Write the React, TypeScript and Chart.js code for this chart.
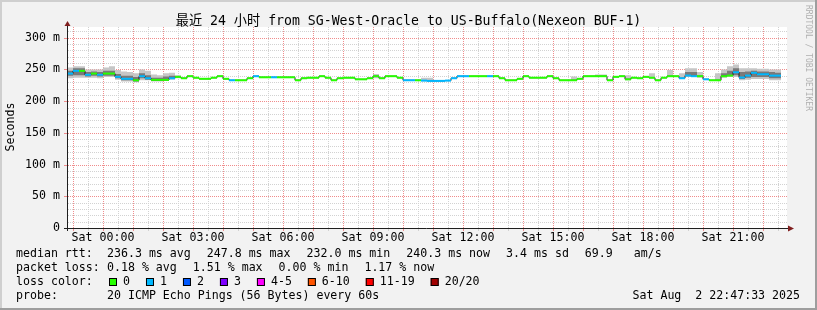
import React, { useEffect, useRef } from 'react';
import { Chart, registerables } from 'chart.js';

Chart.register(...registerables);

// ---------- data ----------
const STEP_MINUTES = 12; // each consolidated step (minutes since Fri 22:48)

const MEDIAN_MS = [
  243.6, 247.8, 247.8, 241.6, 243.6, 241.6, 243.6, 243.6, 238.4, 235.3,
  235.3, 233.0, 239.4, 236.2, 233.6, 233.6, 233.6, 236.2, 238.4, 236.2,
  239.4, 237.0, 235.3, 235.3, 237.0, 239.4, 235.3, 233.0, 233.0, 233.0,
  236.2, 239.4, 237.7, 237.7, 237.7, 237.7, 237.7, 237.7, 233.0, 236.2,
  237.0, 237.0, 239.4, 237.0, 233.0, 236.2, 237.0, 237.0, 234.5, 234.5,
  236.2, 239.4, 236.2, 239.4, 239.4, 237.0, 233.0, 233.0, 233.0, 232.5,
  232.0, 232.0, 232.0, 232.5, 236.2, 239.4, 239.4, 239.4, 239.4, 239.4,
  239.4, 239.4, 236.2, 233.0, 233.0, 235.3, 239.4, 237.0, 237.0, 237.0,
  239.4, 236.2, 233.0, 233.0, 233.0, 235.3, 239.4, 239.4, 239.4, 239.4,
  233.0, 238.4, 239.4, 234.5, 237.0, 236.2, 238.4, 237.0, 233.0, 237.0,
  239.4, 239.4, 236.2, 240.4, 239.4, 239.4, 234.5, 233.0, 233.0, 239.4,
  240.4, 245.7, 237.3, 240.4, 244.7, 242.5, 242.5, 240.3, 240.3,
];

// loss colour bucket per step (0 = no loss, 1 = 1/20 lost)
const LOSS_BUCKET = [
  1, 1, 0, 1, 0, 1, 0, 0, 1, 1,
  1, 0, 1, 1, 0, 0, 0, 1, 0, 0,
  0, 0, 0, 0, 0, 0, 0, 1, 0, 0,
  0, 1, 0, 0, 1, 0, 0, 0, 0, 0,
  0, 0, 0, 0, 0, 0, 0, 0, 0, 0,
  0, 0, 0, 0, 0, 0, 1, 1, 0, 1,
  1, 1, 1, 1, 1, 1, 1, 0, 0, 0,
  1, 0, 0, 0, 0, 0, 0, 0, 0, 0,
  0, 0, 0, 0, 0, 0, 0, 0, 0, 0,
  0, 0, 0, 0, 0, 0, 0, 0, 0, 0,
  0, 0, 1, 1, 1, 0, 1, 0, 0, 0,
  0, 1, 1, 1, 1, 1, 1, 1, 1,
];

// smoke (spread of the 20 pings) where it is visible
const SMOKE_STEP = [
  0, 1, 2, 3, 4, 5, 6, 7, 8, 9, 10, 11, 12, 13, 14, 15, 16, 17, 18,
  51, 59, 60, 84, 88, 89, 93, 97, 100, 102, 103, 104, 105, 108, 109, 110,
  111, 112, 113, 114, 115, 116, 117, 118,
];
const SMOKE_MIN = [
  236, 237, 237, 237, 237, 236, 238, 238, 234, 231, 231, 230, 233, 233, 231, 231, 232, 234, 236,
  236, 232, 232, 232, 238, 238, 233, 236, 238, 235, 238, 238, 237, 232, 237, 238,
  238, 233, 234, 235, 235, 235, 233, 233,
];
const SMOKE_MAX = [
  253, 255, 255, 250, 250, 250, 253, 255, 249, 247, 246, 244, 250, 248, 242, 241, 244, 245, 241,
  243, 237, 237, 239, 242, 242, 241, 244, 249, 244, 252, 252, 246, 244, 250, 255,
  258, 252, 252, 252, 251, 251, 250, 250,
];
const SMOKE_CORE_LO = [
  240, 241, 241, 239, 240, 239, 240, 240, 236, 233, 233, 231, 236, 234, 232, 232, 233, 235, null,
  null, null, null, null, null, null, null, null, null, null, 240, 240, null, null, 238, 240,
  241, 235, 237, 238, 238, 238, 236, 236,
];
const SMOKE_CORE_HI = [
  248, 252, 252, 246, 247, 246, 248, 248, 243, 240, 240, 238, 244, 241, 237, 237, 239, 240, null,
  null, null, null, null, null, null, null, null, null, null, 246, 246, null, null, 244, 248,
  252, 246, 247, 248, 247, 247, 246, 245,
];

const X_LABEL_MINUTES = [72, 252, 432, 612, 792, 972, 1152, 1332];
const X_TICK_LABELS = [
  'Sat 00:00', 'Sat 03:00', 'Sat 06:00', 'Sat 09:00',
  'Sat 12:00', 'Sat 15:00', 'Sat 18:00', 'Sat 21:00',
];
const Y_LABEL_VALUES = [0, 50, 100, 150, 200, 250, 300];
const Y_TICK_LABELS = ['0', '50 m', '100 m', '150 m', '200 m', '250 m', '300 m'];

const TITLE = '最近 24 小时 from SG-West-Oracle to US-Buffalo(Nexeon BUF-1)';
const Y_TITLE = 'Seconds';
const WATERMARK = 'RRDTOOL / TOBI OETIKER';
const RTT_LABEL = 'median rtt:';
const RTT_STATS = ['236.3 ms avg', '247.8 ms max', '232.0 ms min', '240.3 ms now', '3.4 ms sd', '69.9   am/s'];
const LOSS_LABEL = 'packet loss:';
const LOSS_STATS = ['0.18 % avg', '1.51 % max', '0.00 % min', '1.17 % now'];
const LOSS_COLOR_LABEL = 'loss color:';
const LOSS_LABELS = ['0', '1', '2', '3', '4-5', '6-10', '11-19', '20/20'];
const LOSS_COLORS = ['#26ff00', '#00b8ff', '#0059ff', '#7e00ff', '#ff00ff', '#ff5500', '#ff0000', '#a00000'];
const PROBE_LABEL = 'probe:';
const PROBE_TEXT = '20 ICMP Echo Pings (56 Bytes) every 60s';
const DATE_TEXT = 'Sat Aug  2 22:47:33 2025';

// ---------- style ----------
const MONO = "'DejaVu Sans Mono', 'Noto Sans CJK SC', monospace";
const GRID = '#d2d2d2';
const MGRID = '#f08c8c';
const BACK = '#f2f2f2';
const SMOKE_OUTER = '#c6c6c6';
const SMOKE_CORE = '#7a7a7a';
const AXIS = '#1f1f1f';
const ARROW = '#801f1f';
const X_MAX = 1440;
const Y_MAX = 317;
const X_GRID = Array.from({ length: 48 }, (_, k) => 12 + 30 * k); // every 30 min
const Y_GRID = Array.from({ length: 32 }, (_, k) => 10 * k); // every 10 ms

function stepPoints(values: number[]) {
  const pts = values.map((v, i) => ({ x: i * STEP_MINUTES, y: v }));
  pts.push({ x: values.length * STEP_MINUTES, y: values[values.length - 1] });
  return pts;
}

function withSmoke(src: (number | null)[]) {
  const out = MEDIAN_MS.slice();
  SMOKE_STEP.forEach((s, k) => {
    const v = src[k];
    if (v !== null && v !== undefined) out[s] = v;
  });
  return out;
}

const isHour = (v: number) => (v - 12) % 60 === 0;
const isMajorY = (v: number) => v % 50 === 0;

// dotted 1px line drawn pixel by pixel (crisp dots)
function dottedV(ctx: CanvasRenderingContext2D, x: number, y0: number, y1: number) {
  for (let y = Math.ceil(y0); y < y1; y += 2) ctx.fillRect(x, y, 1, 1);
}
function dottedH(ctx: CanvasRenderingContext2D, y: number, x0: number, x1: number) {
  for (let x = Math.ceil(x0); x < x1; x += 2) ctx.fillRect(x, y, 1, 1);
}

const decorPlugin = {
  id: 'rrdDecor',
  beforeDraw(chart: any) {
    const { ctx, chartArea: a, width, height } = chart;
    ctx.save();
    ctx.fillStyle = BACK;
    ctx.fillRect(0, 0, width, height);
    ctx.fillStyle = '#ffffff';
    ctx.fillRect(a.left, a.top, a.right - a.left, a.bottom - a.top);
    ctx.restore();
  },
  beforeDatasetsDraw(chart: any) {
    const { ctx, chartArea: a, scales } = chart;
    const xs = scales.x;
    const ys = scales.y;
    ctx.save();
    const pass = (major: boolean) => {
      ctx.fillStyle = major ? MGRID : GRID;
      for (const v of X_GRID) {
        if (isHour(v) !== major) continue;
        const px = Math.round(xs.getPixelForValue(v));
        dottedV(ctx, px, a.top, a.bottom);
        ctx.fillRect(px, a.bottom + 1, 1, 2);
      }
      for (const v of Y_GRID) {
        if (v === 0 || isMajorY(v) !== major) continue;
        const py = Math.round(ys.getPixelForValue(v));
        dottedH(ctx, py, a.left + 1, a.right);
        if (major) ctx.fillRect(a.left - 3, py, 3, 1);
      }
    };
    pass(false);
    pass(true);
    ctx.restore();
  },
  afterDatasetsDraw(chart: any) {
    const { ctx, chartArea: a } = chart;
    ctx.save();
    ctx.strokeStyle = AXIS;
    ctx.lineWidth = 1;
    const yb = Math.round(a.bottom) + 0.5;
    const xl = Math.round(a.left) + 0.5;
    ctx.beginPath();
    ctx.moveTo(a.left - 3, yb);
    ctx.lineTo(a.right + 2, yb);
    ctx.moveTo(xl, a.bottom + 3);
    ctx.lineTo(xl, a.top - 2);
    ctx.stroke();
    ctx.fillStyle = ARROW;
    ctx.beginPath();
    ctx.moveTo(xl - 3, a.top - 1);
    ctx.lineTo(xl + 3, a.top - 1);
    ctx.lineTo(xl, a.top - 6);
    ctx.closePath();
    ctx.fill();
    ctx.beginPath();
    ctx.moveTo(a.right + 1, yb - 3);
    ctx.lineTo(a.right + 1, yb + 3);
    ctx.lineTo(a.right + 7, yb);
    ctx.closePath();
    ctx.fill();
    ctx.restore();
  },
  afterDraw(chart: any) {
    const { ctx, width, height } = chart;
    ctx.save();
    ctx.fillStyle = '#000';
    ctx.textBaseline = 'middle';
    // title
    ctx.font = `13.2px ${MONO}`;
    ctx.textAlign = 'center';
    ctx.fillText(TITLE, width / 2, 21.5);
    // y title
    ctx.font = `11.6px ${MONO}`;
    ctx.save();
    ctx.translate(10.5, 127);
    ctx.rotate(-Math.PI / 2);
    ctx.fillText(Y_TITLE, 0, 0);
    ctx.restore();
    // watermark
    ctx.save();
    ctx.font = `8px ${MONO}`;
    ctx.fillStyle = '#b0b0b0';
    ctx.textAlign = 'left';
    ctx.translate(808.5, 5);
    ctx.rotate(Math.PI / 2);
    ctx.fillText(WATERMARK, 0, 0);
    ctx.restore();
    // legend
    ctx.font = `11.6px ${MONO}`;
    ctx.textAlign = 'left';
    const rows = [254, 268.3, 282.3, 296.2];
    ctx.fillText(RTT_LABEL, 16, rows[0]);
    let x = 107;
    for (const t of RTT_STATS) {
      ctx.fillText(t, x, rows[0]);
      x += ctx.measureText(t).width + 16;
    }
    ctx.fillText(LOSS_LABEL, 16, rows[1]);
    x = 107;
    for (const t of LOSS_STATS) {
      ctx.fillText(t, x, rows[1]);
      x += ctx.measureText(t).width + 16;
    }
    ctx.fillText(LOSS_COLOR_LABEL, 16, rows[2]);
    x = 109;
    LOSS_LABELS.forEach((t, i) => {
      ctx.fillStyle = LOSS_COLORS[i];
      ctx.fillRect(x, 278, 8, 8);
      ctx.strokeStyle = '#000';
      ctx.lineWidth = 1;
      ctx.strokeRect(x + 0.5, 278.5, 7, 7);
      ctx.fillStyle = '#000';
      ctx.fillText(t, x + 14, rows[2]);
      x += 14 + ctx.measureText(t).width + 16;
    });
    ctx.fillText(PROBE_LABEL, 16, rows[3]);
    ctx.fillText(PROBE_TEXT, 107, rows[3]);
    ctx.textAlign = 'right';
    ctx.fillText(DATE_TEXT, 800, rows[3]);
    // frame
    ctx.fillStyle = '#cfcfcf';
    ctx.fillRect(0, 0, width, 2);
    ctx.fillRect(0, 0, 2, height);
    ctx.fillStyle = '#9e9e9e';
    ctx.fillRect(0, height - 2, width, 2);
    ctx.fillRect(width - 2, 0, 2, height);
    ctx.restore();
  },
};

export default function App() {
  const ref = useRef<HTMLCanvasElement | null>(null);

  useEffect(() => {
    document.body.style.margin = '0';
    const canvas = ref.current;
    if (!canvas) return;

    const coloured: { x: number; y: number | null }[] = [];
    MEDIAN_MS.forEach((v, i) => {
      coloured.push({ x: i * STEP_MINUTES, y: v });
      coloured.push({ x: (i + 1) * STEP_MINUTES, y: v });
      coloured.push({ x: (i + 1) * STEP_MINUTES, y: null });
    });

    const none = 'rgba(0,0,0,0)';
    const common = { pointRadius: 0, stepped: true, borderWidth: 0, borderColor: none };

    const chart = new Chart(canvas, {
      type: 'line',
      data: {
        datasets: [
          { ...common, data: stepPoints(withSmoke(SMOKE_MAX)), fill: { target: 1 }, backgroundColor: SMOKE_OUTER, order: 6 },
          { ...common, data: stepPoints(withSmoke(SMOKE_MIN)), fill: false, order: 7 },
          { ...common, data: stepPoints(withSmoke(SMOKE_CORE_HI)), fill: { target: 3 }, backgroundColor: SMOKE_CORE, order: 4 },
          { ...common, data: stepPoints(withSmoke(SMOKE_CORE_LO)), fill: false, order: 5 },
          { pointRadius: 0, stepped: true, data: stepPoints(MEDIAN_MS), borderColor: '#202020', borderWidth: 1, fill: false, order: 2 },
          {
            pointRadius: 0,
            data: coloured,
            borderWidth: 2,
            borderCapStyle: 'butt',
            fill: false,
            spanGaps: false,
            order: 1,
            borderColor: LOSS_COLORS[0],
            segment: {
              borderColor: (c: any) => LOSS_COLORS[LOSS_BUCKET[Math.floor(c.p0DataIndex / 3)] || 0],
            },
          },
        ] as any,
      },
      options: {
        responsive: false,
        animation: false,
        devicePixelRatio: 1,
        layout: { padding: { top: 27, right: 30, bottom: 0, left: 0 } },
        plugins: { legend: { display: false }, tooltip: { enabled: false }, title: { display: false } },
        scales: {
          x: {
            type: 'linear',
            min: 0,
            max: X_MAX,
            afterBuildTicks: (s: any) => { s.ticks = X_GRID.map((v) => ({ value: v })); },
            afterFit: (s: any) => { s.height = 82; },
            ticks: {
              autoSkip: false,
              maxRotation: 0,
              minRotation: 0,
              padding: 3,
              color: '#000',
              font: { family: MONO, size: 11.6 },
              callback: (v: any) => {
                const k = X_LABEL_MINUTES.indexOf(Number(v));
                return k >= 0 ? X_TICK_LABELS[k] : '';
              },
            },
            grid: { display: false, drawTicks: false },
            border: { display: false },
          },
          y: {
            type: 'linear',
            min: 0,
            max: Y_MAX,
            afterBuildTicks: (s: any) => { s.ticks = Y_GRID.map((v) => ({ value: v })); },
            afterFit: (s: any) => { s.width = 67; },
            ticks: {
              autoSkip: false,
              padding: 7,
              color: '#000',
              font: { family: MONO, size: 11.6 },
              callback: (v: any) => {
                const k = Y_LABEL_VALUES.indexOf(Number(v));
                return k >= 0 ? Y_TICK_LABELS[k] : '';
              },
            },
            grid: { display: false, drawTicks: false },
            border: { display: false },
          },
        },
      } as any,
      plugins: [decorPlugin],
    });

    return () => chart.destroy();
  }, []);

  return (
    <div style={{ position: 'absolute', left: 0, top: 0, width: 817, height: 310 }}>
      <canvas ref={ref} width={817} height={310} style={{ display: 'block', width: 817, height: 310 }} />
    </div>
  );
}
